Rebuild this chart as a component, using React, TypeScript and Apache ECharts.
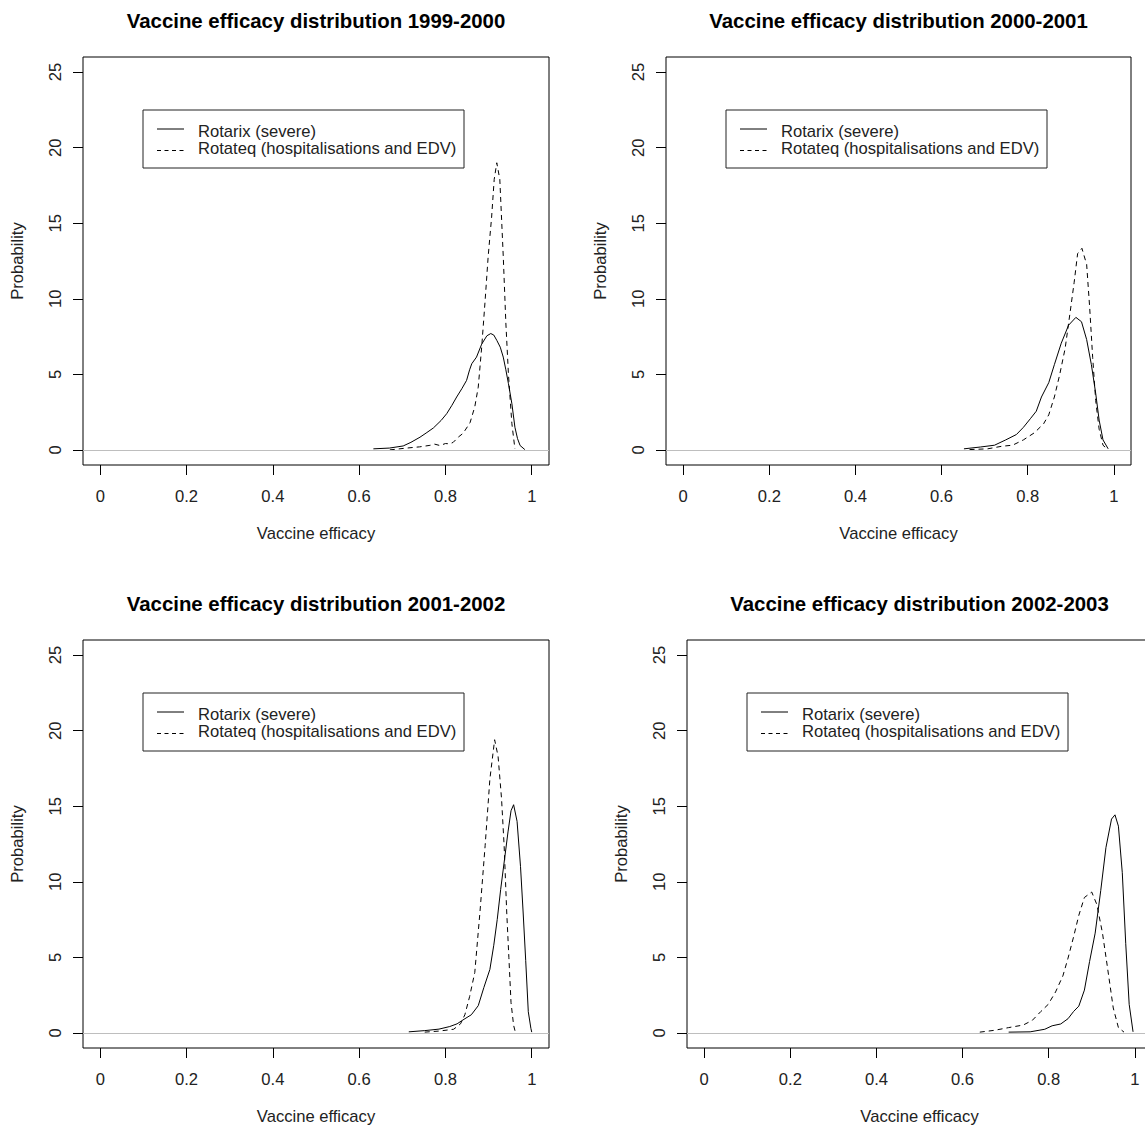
import React, { useEffect, useRef } from "react";
import * as echarts from "echarts";

// ---------- data ----------
const titles = [
  "Vaccine efficacy distribution 1999-2000",
  "Vaccine efficacy distribution 2000-2001",
  "Vaccine efficacy distribution 2001-2002",
  "Vaccine efficacy distribution 2002-2003",
];
const legendNames = ["Rotarix (severe)", "Rotateq (hospitalisations and EDV)"];
const xTicks = [0, 0.2, 0.4, 0.6, 0.8, 1];
const yTicks = [0, 5, 10, 15, 20, 25];
const xLabelText = "Vaccine efficacy";
const yLabelText = "Probability";

const rotarix1999: number[][] = [
  [0.633, 0.07], [0.67, 0.12], [0.702, 0.26], [0.72, 0.5], [0.741, 0.84], [0.757, 1.15],
  [0.772, 1.45], [0.79, 1.95], [0.803, 2.4], [0.815, 2.95], [0.826, 3.5], [0.838, 4.05],
  [0.849, 4.6], [0.856, 5.3], [0.861, 5.7], [0.872, 6.14], [0.884, 7.0], [0.896, 7.55],
  [0.905, 7.7], [0.912, 7.6], [0.919, 7.25], [0.927, 6.8], [0.934, 6.14], [0.94, 5.3],
  [0.946, 4.38], [0.954, 3.05], [0.961, 1.5], [0.967, 0.75], [0.973, 0.29], [0.984, 0.02],
];
const rotateq1999: number[][] = [
  [0.671, 0.0], [0.71, 0.12], [0.74, 0.2], [0.764, 0.3], [0.775, 0.38], [0.787, 0.29],
  [0.8, 0.42], [0.81, 0.4], [0.818, 0.5], [0.83, 0.85], [0.841, 1.1], [0.857, 1.8],
  [0.868, 2.85], [0.876, 4.15], [0.884, 6.8], [0.892, 9.9], [0.899, 12.8], [0.907, 15.4],
  [0.913, 17.9], [0.919, 19.0], [0.926, 17.9], [0.934, 12.8], [0.94, 8.4], [0.946, 5.0],
  [0.954, 1.73], [0.961, 0.07],
];
const rotarix2000: number[][] = [
  [0.652, 0.07], [0.69, 0.19], [0.723, 0.31], [0.749, 0.66], [0.774, 1.02], [0.79, 1.49],
  [0.807, 2.09], [0.82, 2.56], [0.832, 3.5], [0.849, 4.45], [0.862, 5.64], [0.878, 7.06],
  [0.895, 8.25], [0.912, 8.77], [0.925, 8.48], [0.937, 7.3], [0.948, 5.64], [0.958, 3.74],
  [0.966, 1.97], [0.975, 0.66], [0.987, 0.07],
];
const rotateq2000: number[][] = [
  [0.665, 0.02], [0.707, 0.07], [0.74, 0.24], [0.765, 0.31], [0.79, 0.66], [0.816, 1.14],
  [0.837, 1.73], [0.849, 2.32], [0.862, 3.5], [0.874, 4.93], [0.887, 6.71], [0.899, 9.19],
  [0.908, 11.09], [0.916, 12.99], [0.926, 13.34], [0.937, 12.27], [0.944, 9.43], [0.951, 6.11],
  [0.958, 3.27], [0.966, 1.37], [0.975, 0.31], [0.985, 0.05],
];
const rotarix2001: number[][] = [
  [0.715, 0.07], [0.752, 0.15], [0.785, 0.25], [0.81, 0.42], [0.827, 0.6], [0.843, 0.9],
  [0.86, 1.2], [0.876, 1.8], [0.889, 3.0], [0.903, 4.2], [0.912, 5.8], [0.92, 7.5],
  [0.928, 9.5], [0.937, 11.5], [0.945, 13.3], [0.952, 14.7], [0.958, 15.1], [0.966, 14.0],
  [0.974, 11.0], [0.98, 8.0], [0.986, 4.8], [0.992, 1.4], [0.998, 0.3], [1.0, 0.05],
];
const rotateq2001: number[][] = [
  [0.752, 0.05], [0.785, 0.12], [0.819, 0.24], [0.835, 0.6], [0.845, 1.2], [0.856, 2.4],
  [0.868, 4.0], [0.88, 8.0], [0.892, 12.4], [0.903, 16.8], [0.914, 19.4], [0.922, 18.3],
  [0.93, 15.5], [0.936, 12.4], [0.942, 8.0], [0.947, 5.0], [0.952, 2.0], [0.958, 0.5],
  [0.962, 0.05],
];
const rotarix2002: number[][] = [
  [0.707, 0.05], [0.757, 0.07], [0.791, 0.24], [0.808, 0.47], [0.828, 0.59], [0.845, 0.94],
  [0.858, 1.42], [0.87, 1.77], [0.883, 2.83], [0.895, 4.72], [0.908, 6.6], [0.921, 9.43],
  [0.933, 12.26], [0.946, 14.15], [0.954, 14.43], [0.962, 13.68], [0.971, 10.6], [0.979, 5.9],
  [0.987, 1.89], [0.996, 0.07],
];
const rotateq2002: number[][] = [
  [0.64, 0.05], [0.674, 0.17], [0.707, 0.35], [0.741, 0.52], [0.762, 0.83], [0.782, 1.42],
  [0.799, 1.89], [0.816, 2.71], [0.833, 3.77], [0.845, 4.95], [0.858, 6.37], [0.87, 7.78],
  [0.883, 8.96], [0.9, 9.32], [0.912, 8.49], [0.925, 6.6], [0.937, 4.25], [0.95, 1.65],
  [0.962, 0.35], [0.975, 0.05],
];
const rotarixSeries = [rotarix1999, rotarix2000, rotarix2001, rotarix2002];
const rotateqSeries = [rotateq1999, rotateq2000, rotateq2001, rotateq2002];

// ---------- layout ----------
const FONT = "'Liberation Sans', Arial, sans-serif";
const TEXT_SIZE = 16.6;
const TEXT_COLOR = "#222";
const grids = [
  { left: 83, top: 57, width: 466, height: 408 },
  { left: 666, top: 57, width: 465, height: 408 },
  { left: 83, top: 640, width: 466, height: 408 },
  { left: 687, top: 640, width: 465, height: 408 },
];
const DASH = [5, 4];

export default function App() {
  const ref = useRef<HTMLDivElement>(null);
  useEffect(() => {
    if (!ref.current) return;
    const chart = echarts.init(ref.current, undefined, { renderer: "svg" });

    const xAxes: any[] = [];
    const yAxes: any[] = [];
    const series: any[] = [];
    const graphics: any[] = [];
    const titleOpts: any[] = [];

    grids.forEach((g, i) => {
      titleOpts.push({
        text: titles[i],
        left: g.left + g.width / 2,
        top: g.top - 46,
        textAlign: "center",
        padding: 0,
        textStyle: { fontFamily: FONT, fontSize: 20.4, fontWeight: "bold", color: "#000" },
      });
      xAxes.push({
        type: "value",
        gridIndex: i,
        min: -0.04,
        max: 1.04,
        axisLine: { show: false, onZero: false },
        splitLine: { show: false },
        axisTick: { show: true, inside: false, length: 10, customValues: xTicks, lineStyle: { color: "#000" } },
        axisLabel: { show: true, customValues: xTicks, margin: 23, fontFamily: FONT, fontSize: TEXT_SIZE, color: TEXT_COLOR },
        name: xLabelText,
        nameLocation: "middle",
        nameGap: 60,
        nameTextStyle: { fontFamily: FONT, fontSize: TEXT_SIZE, color: TEXT_COLOR },
      });
      yAxes.push({
        type: "value",
        gridIndex: i,
        min: -1,
        max: 26,
        axisLine: { show: false, onZero: false },
        splitLine: { show: false },
        axisTick: { show: true, inside: false, length: 10, customValues: yTicks, lineStyle: { color: "#000" } },
        axisLabel: { show: true, customValues: yTicks, margin: 19, rotate: 90, fontFamily: FONT, fontSize: TEXT_SIZE, color: TEXT_COLOR },
        name: yLabelText,
        nameLocation: "middle",
        nameGap: 57,
        nameRotate: 90,
        nameTextStyle: { fontFamily: FONT, fontSize: TEXT_SIZE, color: TEXT_COLOR },
      });
      series.push({
        type: "line",
        name: legendNames[0],
        xAxisIndex: i,
        yAxisIndex: i,
        data: rotarixSeries[i],
        showSymbol: false,
        symbol: "none",
        lineStyle: { color: "#000", width: 1 },
        markLine: {
          silent: true,
          symbol: "none",
          label: { show: false },
          lineStyle: { color: "#bebebe", width: 1, type: "solid" },
          data: [{ yAxis: 0 }],
        },
        z: 3,
      });
      series.push({
        type: "line",
        name: legendNames[1],
        xAxisIndex: i,
        yAxisIndex: i,
        data: rotateqSeries[i],
        showSymbol: false,
        symbol: "none",
        lineStyle: { color: "#000", width: 1, type: DASH },
        z: 3,
      });

      const lx = g.left + 60;
      const ly = g.top + 53;
      graphics.push({
        type: "group",
        children: [
          { type: "rect", shape: { x: lx, y: ly, width: 321, height: 58 }, style: { fill: "#fff", stroke: "#222", lineWidth: 1 } },
          { type: "line", shape: { x1: lx + 14, y1: ly + 19, x2: lx + 41, y2: ly + 19 }, style: { stroke: "#000", lineWidth: 1 } },
          { type: "line", shape: { x1: lx + 14, y1: ly + 40.5, x2: lx + 41, y2: ly + 40.5 }, style: { stroke: "#000", lineWidth: 1, lineDash: [4, 3.5] } },
          { type: "text", x: lx + 55, y: ly + 21.5, style: { text: legendNames[0], fontFamily: FONT, fontSize: TEXT_SIZE, fill: TEXT_COLOR, verticalAlign: "middle" } },
          { type: "text", x: lx + 55, y: ly + 38.5, style: { text: legendNames[1], fontFamily: FONT, fontSize: TEXT_SIZE, fill: TEXT_COLOR, verticalAlign: "middle" } },
        ],
      });
    });

    chart.setOption({
      animation: false,
      backgroundColor: "#fff",
      title: titleOpts,
      grid: grids.map((g) => ({
        ...g,
        show: true,
        borderColor: "#000",
        borderWidth: 1,
        backgroundColor: "transparent",
        containLabel: false,
        outerBoundsMode: "none",
      })),
      xAxis: xAxes,
      yAxis: yAxes,
      series,
      graphic: graphics,
    });
    return () => chart.dispose();
  }, []);
  return (
    <div
      ref={ref}
      style={{ position: "absolute", left: 0, top: 0, width: 1145, height: 1127 }}
    />
  );
}
